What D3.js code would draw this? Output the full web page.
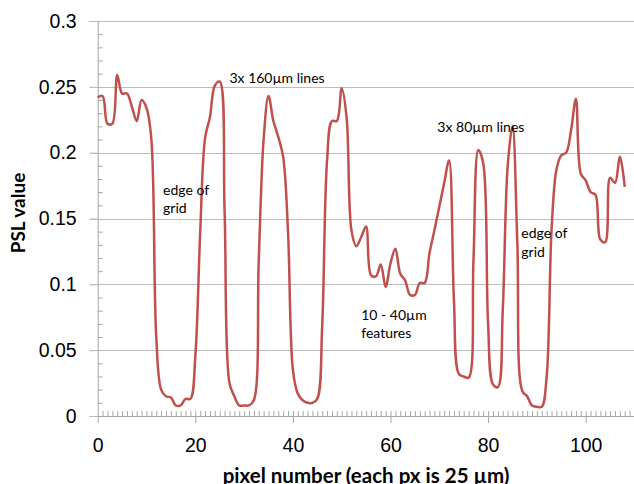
<!DOCTYPE html>
<html>
<head>
<meta charset="utf-8">
<script src="https://cdn.jsdelivr.net/npm/d3@7"></script>
<style>
  body { margin: 0; background: #fff; }
  svg { display: block; font-family: Lato, "Open Sans", sans-serif; }
  .tick text { font-size: 19.5px; fill: #000; }
  .note { font-size: 14px; fill: #000; }
  .title { font-size: 19px; font-weight: bold; fill: #000; }
</style>
</head>
<body>
<div id="chart"></div>
<script>
// PSL value at each pixel number
var psl = [
	0.242, 0.243, 0.222, 0.222, 0.259, 0.245, 0.245, 0.235, 0.224, 0.240,
	0.234, 0.210, 0.060, 0.020, 0.015, 0.014, 0.008, 0.008, 0.013, 0.013,
	0.045, 0.139, 0.211, 0.227, 0.251, 0.254, 0.156, 0.025, 0.015, 0.008,
	0.008, 0.008, 0.012, 0.118, 0.210, 0.243, 0.224, 0.212, 0.197, 0.140,
	0.035, 0.017, 0.012, 0.010, 0.010, 0.013, 0.068, 0.194, 0.224, 0.224,
	0.249, 0.227, 0.141, 0.129, 0.136, 0.144, 0.107, 0.106, 0.115, 0.098,
	0.116, 0.127, 0.108, 0.103, 0.092, 0.092, 0.101, 0.101, 0.124, 0.141,
	0.159, 0.177, 0.194, 0.088, 0.032, 0.030, 0.029, 0.118, 0.202, 0.192,
	0.070, 0.024, 0.022, 0.080, 0.189, 0.220, 0.130, 0.019, 0.015, 0.008,
	0.007, 0.007, 0.030, 0.141, 0.187, 0.198, 0.200, 0.217, 0.241, 0.184,
	0.179, 0.170, 0.168, 0.134, 0.132, 0.181, 0.177, 0.197, 0.174
];

var yTicks = [0, 0.05, 0.1, 0.15, 0.2, 0.25, 0.3];
var yTickLabels = ["0", "0.05", "0.1", "0.15", "0.2", "0.25", "0.3"];
var yMinor = [0.01, 0.02, 0.03, 0.04, 0.06, 0.07, 0.08, 0.09, 0.11, 0.12, 0.13, 0.14,
	0.16, 0.17, 0.18, 0.19, 0.21, 0.22, 0.23, 0.24, 0.26, 0.27, 0.28, 0.29];
var xTicks = [0, 20, 40, 60, 80, 100];
var xMax = 110;

var notes = [
	{ lines: ["edge of", "grid"], x: 13.4, y: 0.168 },
	{ lines: ["3x 160µm lines"], x: 27, y: 0.253 },
	{ lines: ["3x 80µm lines"], x: 69.6, y: 0.216 },
	{ lines: ["10 - 40µm", "features"], x: 54, y: 0.073 },
	{ lines: ["edge of", "grid"], x: 86.8, y: 0.135 }
];

var width = 634,
	height = 484,
	plotLeft = 97.7,
	plotRight = 634.5,
	plotTop = 21,
	plotBottom = 416;

var svg = d3.select("#chart").append("svg")
	.attr("width", width)
	.attr("height", height);

var xScale = d3.scaleLinear()
	.domain([0, xMax])
	.range([plotLeft, plotRight]);

var yScale = d3.scaleLinear()
	.domain([0, 0.3])
	.range([plotBottom, plotTop]);

//gridlines
svg.append("g")
	.selectAll("line")
	.data(yTicks)
	.enter()
	.append("line")
	.attr("x1", plotLeft - 8)
	.attr("x2", plotRight)
	.attr("y1", function(d) { return Math.round(yScale(d)) + 0.5; })
	.attr("y2", function(d) { return Math.round(yScale(d)) + 0.5; })
	.attr("stroke", "#bcbcbc")
	.attr("stroke-width", 1);

//y axis with labels
var yAxis = d3.axisLeft(yScale)
	.tickValues(yTicks)
	.tickSize(8)
	.tickPadding(13)
	.tickFormat(function(d, i) { return yTickLabels[i]; });

var yG = svg.append("g")
	.attr("transform", "translate(" + plotLeft + ",0)")
	.call(yAxis);
yG.select(".domain").attr("stroke", "#a6a6a6");
yG.selectAll(".tick line").attr("stroke", "#bcbcbc");

//minor y ticks, inside
var yMinorG = svg.append("g")
	.attr("transform", "translate(" + plotLeft + ",0)")
	.call(d3.axisRight(yScale).tickValues(yMinor).tickSize(5).tickFormat(""));
yMinorG.select(".domain").remove();
yMinorG.selectAll(".tick line").attr("stroke", "#a6a6a6");

//x axis
var xAxis = d3.axisBottom(xScale)
	.tickValues(xTicks)
	.tickSize(7)
	.tickPadding(15)
	.tickSizeOuter(0);

var xG = svg.append("g")
	.attr("transform", "translate(0," + plotBottom + ")")
	.call(xAxis);
xG.select(".domain").attr("stroke", "#a6a6a6");
xG.selectAll(".tick line").attr("stroke", "#a6a6a6");

//minor x ticks every pixel
var xMinorG = svg.append("g")
	.attr("transform", "translate(0," + plotBottom + ")")
	.call(d3.axisTop(xScale).tickValues(d3.range(1, xMax + 1)).tickSize(5).tickFormat(""));
xMinorG.select(".domain").remove();
xMinorG.selectAll(".tick line").attr("stroke", "#a6a6a6");

//the profile
var line = d3.line()
	.x(function(d, i) { return xScale(i); })
	.y(function(d) { return yScale(d); })
	.curve(d3.curveCatmullRom.alpha(0.5));

svg.append("path")
	.datum(psl)
	.attr("d", line)
	.attr("fill", "none")
	.attr("stroke", "#C0504D")
	.attr("stroke-width", 2.5)
	.attr("stroke-linejoin", "round");

//annotations
var noteText = svg.selectAll(".note")
	.data(notes)
	.enter()
	.append("text")
	.attr("class", "note")
	.attr("x", function(d) { return xScale(d.x); })
	.attr("y", function(d) { return yScale(d.y); });

noteText.selectAll("tspan")
	.data(function(d) { return d.lines.map(function(t) { return { t: t, x: xScale(d.x) }; }); })
	.enter()
	.append("tspan")
	.attr("x", function(d) { return d.x; })
	.attr("dy", function(d, i) { return i == 0 ? 0 : 18.5; })
	.text(function(d) { return d.t; });

//axis titles
svg.append("text")
	.attr("class", "title")
	.attr("x", (plotLeft + plotRight) / 2)
	.attr("y", 483)
	.attr("text-anchor", "middle")
	.style("font-size", "20.5px")
	.text("pixel number (each px is 25 µm)");

svg.append("text")
	.attr("class", "title")
	.attr("transform", "translate(25,213) rotate(-90)")
	.attr("text-anchor", "middle")
	.text("PSL value");
</script>
</body>
</html>
